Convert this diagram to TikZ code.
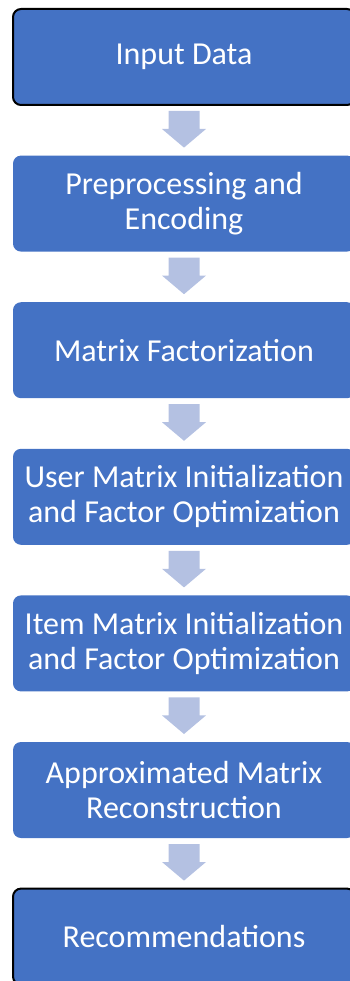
\documentclass[tikz,border=0pt]{standalone}
\usepackage{fontspec}
\setmainfont{Carlito}
\usetikzlibrary{calc}
\definecolor{boxblue}{HTML}{4472C4}
\definecolor{arrowblue}{HTML}{B4C1E2}
\tikzset{
  flowbox/.style={rectangle, rounded corners=8pt, fill=boxblue, text=white,
    font=\fontsize{32}{35}\selectfont, align=center, inner sep=0pt, outer sep=0pt,
    minimum width=342pt, minimum height=96pt},
  endbox/.style={flowbox, draw=black, line width=2pt},
  flowarrow/.style={fill=arrowblue}
}
\newcommand\flowarrow[2]{%
  \fill[flowarrow] ($(#1.south)+(-15.5,6)$) -- ++(31,0) -- ++(0,18) -- ++(6.5,0)
    -- ($(#2.north)+(0,-8)$) -- ($(#1.south)+(-22,24)$) -- ++(6.5,0) -- cycle;}
\begin{document}
\begin{tikzpicture}[x=1pt,y=-1pt]
\useasboundingbox (0,0) rectangle (350,981);
\clip (0,0) rectangle (350,981);
\node[endbox]  (b1) at (184,57)    {Input Data};
\node[flowbox] (b2) at (184,203.6) {Preprocessing and\\Encoding};
\node[flowbox] (b3) at (184,350.2) {Matrix Factorization};
\node[flowbox] (b4) at (184,496.8) {User Matrix Initialization\\and Factor Optimization};
\node[flowbox] (b5) at (184,643.4) {Item Matrix Initialization\\and Factor Optimization};
\node[flowbox] (b6) at (184,790)   {Approximated Matrix\\Reconstruction};
\node[endbox]  (b7) at (184,936.6) {Recommendations};
\flowarrow{b1}{b2}
\flowarrow{b2}{b3}
\flowarrow{b3}{b4}
\flowarrow{b4}{b5}
\flowarrow{b5}{b6}
\flowarrow{b6}{b7}
\end{tikzpicture}
\end{document}
